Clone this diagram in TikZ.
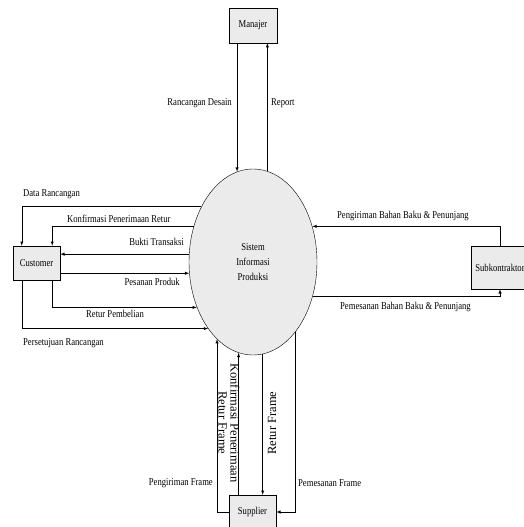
\documentclass[tikz,border=0pt]{standalone}
\usepackage{fontspec}
\setmainfont{Liberation Serif}[FakeStretch=0.82]
\newfontfamily\rotfont{Liberation Serif}
\usetikzlibrary{arrows,shapes.geometric}
\definecolor{boxgray}{RGB}{235,235,235}
\tikzset{
  entity/.style={draw, fill=boxgray, inner sep=0pt, minimum height=34pt},
  proses/.style={draw, ellipse, fill=boxgray, inner sep=0pt, minimum width=128pt,
    minimum height=186pt, align=center, font=\fontsize{10.5}{15}\selectfont},
  flow/.style={->, >=latex, line width=0.5pt},
  lbl/.style={inner sep=0pt},
  rotlbl/.style={inner sep=0pt, align=center, font=\rotfont\fontsize{12.5}{12}\selectfont}
}

\begin{document}
\begin{tikzpicture}[x=1pt,y=-1pt,font=\fontsize{10.5}{12}\selectfont]
\useasboundingbox (0,0) rectangle (524,527);
% proses dan entitas
\node[proses] (sys) at (253,262) {Sistem\\Informasi\\Produksi};
\node[entity, minimum width=48pt, minimum height=35pt] (man) at (253,25.5) {Manajer};
\node[entity, minimum width=47pt] (cust) at (36.5,263) {Customer};
\node[entity, minimum width=58pt, minimum height=43pt] (sub) at (500,267.5) {Subkontraktor};
\node[entity, minimum width=47pt] (sup) at (252.5,512) {Supplier};

% manajer
\draw[flow] (sys.100 |- man.south) -- (sys.100);
\draw[flow] (sys.81) -- (sys.81 |- man.south);
\node[lbl, anchor=east] (lrd) at (232,103) {Rancangan Desain};
\node[lbl, anchor=west] (lrep) at (271,103) {Report};

% customer
\draw[flow] (sys.133) -| ([xshift=9pt]cust.north west);
\draw[flow] (sys.149) -| ([xshift=-8pt]cust.north east);
\draw[flow] (sys.173) -- (sys.173 -| cust.east);
\draw[flow] (cust.east |- sys.190) -- (sys.190);
\draw[flow] ([xshift=-8pt]cust.south east) |- (sys.219);
\draw[flow] ([xshift=9pt]cust.south west) |- (sys.236);
\node[lbl, anchor=west] (ldr) at (23,194) {Data Rancangan};
\node[lbl, anchor=west] (lkpr) at (67,219) {Konfirmasi Penerimaan Retur};
\node[lbl, anchor=east] (lbt) at (184,242) {Bukti Transaksi};
\node[lbl, anchor=east] (lpp) at (180,282) {Pesanan Produk};
\node[lbl, anchor=west] (lrp) at (86,314) {Retur Pembelian};
\node[lbl, anchor=west] (lpr) at (23,343) {Persetujuan Rancangan};

% subkontraktor
\draw[flow] (sub.north) |- (sys.31);
\draw[flow] (sys.330) -| (sub.south);
\node[lbl, anchor=west] (lpbb) at (337,216) {Pengiriman Bahan Baku \& Penunjang};
\node[lbl, anchor=west] (lmbb) at (340,307) {Pemesanan Bahan Baku \& Penunjang};

% supplier
\draw[flow] (sup.west) -| (sys.245);
\draw[flow] (sys.261 |- sup.north) -- (sys.261);
\draw[flow] (sys.276) -- (sys.276 |- sup.north);
\draw[flow] (sys.301) |- (sup.east);
\node[lbl, anchor=east] (lpf) at (213,483) {Pengiriman Frame};
\node[lbl, anchor=west] (lmf) at (298,483) {Pemesanan Frame};
\node[rotlbl, rotate=-90] (lkrf) at (229,423) {Konfirmasi Penerimaan\\Retur Frame};
\node[rotlbl, rotate=90] (lrf) at (272,423) {Retur Frame};
\end{tikzpicture}
\end{document}
